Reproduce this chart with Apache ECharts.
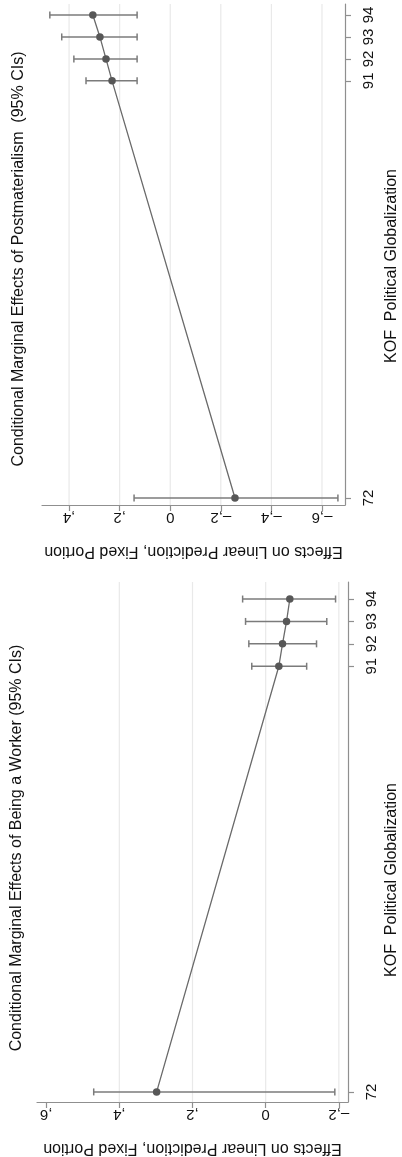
<!DOCTYPE html>
<html><head><meta charset="utf-8">
<script src="https://cdn.jsdelivr.net/npm/echarts@6/dist/echarts.min.js"></script>
<style>html,body{margin:0;padding:0;background:#fff}#c{width:402px;height:1157px}</style>
</head><body><div id="c"></div><script>
// KOF Political Globalization values (categories along the axis)
const kof = [72, 91, 92, 93, 94];
const kofTicks = [72, 91, 92, 93, 94];

// Panel 1: Conditional Marginal Effects of Postmaterialism
const postEst = [-0.256, 0.230, 0.254, 0.278, 0.306];
const postLo  = [-0.663, 0.131, 0.131, 0.131, 0.131];
const postHi  = [0.143, 0.333, 0.381, 0.429, 0.476];
const postTicks = [0.4, 0.2, 0, -0.2, -0.4, -0.6];
const postGridVals = [0.4, 0.2, 0, -0.2, -0.4, -0.6];

// Panel 2: Conditional Marginal Effects of Being a Worker
const workEst = [0.298, -0.036, -0.046, -0.057, -0.066];
const workLo  = [-0.189, -0.112, -0.139, -0.167, -0.191];
const workHi  = [0.470, 0.038, 0.046, 0.055, 0.063];
const workTicks = [0.6, 0.4, 0.2, 0, -0.2];
const workGridVals = [0.4, 0.2, 0, -0.2];

const titlePost = 'Conditional Marginal Effects of Postmaterialism  (95% CIs)';
const titleWork = 'Conditional Marginal Effects of Being a Worker (95% CIs)';
const yName = 'Effects on Linear Prediction, Fixed Portion';
const xName = 'KOF  Political Globalization';

const FONT = '"Liberation Sans", Arial, sans-serif';
const AX = '#8f8f8f';
const FS = 16;

function fmt(v) {
  if (Math.abs(v) < 1e-9) return '0';
  const s = Math.abs(v).toFixed(1).replace(/^0\./, ',');
  return (v < 0 ? '\u2013' : '') + s;
}

function valueAxis(gi, min, max, ticks) {
  return {
    type: 'value', gridIndex: gi, inverse: true, min: min, max: max, position: 'bottom',
    axisLine: {show: true, onZero: false, lineStyle: {color: AX, width: 1.2}},
    axisTick: {show: true, length: 6, customValues: ticks, lineStyle: {color: AX, width: 1.2}},
    axisLabel: {customValues: ticks, rotate: 180, formatter: fmt, margin: 5,
      fontFamily: FONT, fontSize: 15, color: '#111'},
    splitLine: {show: false},
    name: yName, nameLocation: 'middle', nameRotate: 180, nameGap: 38,
    nameTextStyle: {fontFamily: FONT, fontSize: FS, color: '#111'}
  };
}
function kofAxis(gi, min, max) {
  return {
    type: 'value', gridIndex: gi, position: 'right', min: min, max: max,
    axisLine: {show: true, onZero: false, lineStyle: {color: AX, width: 1.2}},
    axisTick: {show: true, length: 6, customValues: kofTicks, lineStyle: {color: AX, width: 1.2}},
    axisLabel: {customValues: kofTicks, rotate: 90, margin: 16, formatter: v => String(v),
      fontFamily: FONT, fontSize: 15, color: '#111'},
    splitLine: {show: false}
  };
}

function gridSeries(gi, vals) {
  return {
    type: 'custom', xAxisIndex: gi, yAxisIndex: gi, silent: true, z: 1,
    data: vals.map(v => [v, 80]), encode: {x: 0, y: 1},
    renderItem: function (params, api) {
      const cs = params.coordSys;
      const x = api.coord([api.value(0), api.value(1)])[0];
      return {type: 'line', shape: {x1: x, y1: cs.y, x2: x, y2: cs.y + cs.height},
        style: {stroke: '#e9e9e9', lineWidth: 1.2}};
    }
  };
}
function ciSeries(gi, lo, hi) {
  return {
    type: 'custom', xAxisIndex: gi, yAxisIndex: gi, z: 2,
    data: kof.map((k, i) => [lo[i], hi[i], k]), encode: {x: [0, 1], y: 2},
    renderItem: function (params, api) {
      const p1 = api.coord([api.value(0), api.value(2)]);
      const p2 = api.coord([api.value(1), api.value(2)]);
      const h = 3.5, st = {stroke: '#7b7b7b', lineWidth: 1.5};
      return {type: 'group', children: [
        {type: 'line', shape: {x1: p1[0], y1: p1[1], x2: p2[0], y2: p2[1]}, style: st},
        {type: 'line', shape: {x1: p1[0], y1: p1[1] - h, x2: p1[0], y2: p1[1] + h}, style: st},
        {type: 'line', shape: {x1: p2[0], y1: p2[1] - h, x2: p2[0], y2: p2[1] + h}, style: st}
      ]};
    }
  };
}
function estSeries(gi, est) {
  return {
    type: 'line', xAxisIndex: gi, yAxisIndex: gi, z: 3,
    data: kof.map((k, i) => [est[i], k]),
    symbol: 'circle', symbolSize: 7.5,
    itemStyle: {color: '#575757'},
    lineStyle: {color: '#6a6a6a', width: 1.3},
    animation: false
  };
}

const chart = echarts.init(document.getElementById('c'), null, {renderer: 'canvas'});
chart.setOption({
  animation: false,
  backgroundColor: '#fff',
  grid: [
    {left: 42, right: 57, top: 4, height: 501},
    {left: 37, right: 54, top: 582, height: 520}
  ],
  xAxis: [valueAxis(0, -0.691, 0.507, postTicks), valueAxis(1, -0.225, 0.625, workTicks)],
  yAxis: [kofAxis(0, 71.68, 94.5), kofAxis(1, 71.55, 94.76)],
  series: [
    gridSeries(0, postGridVals), ciSeries(0, postLo, postHi), estSeries(0, postEst),
    gridSeries(1, workGridVals), ciSeries(1, workLo, workHi), estSeries(1, workEst)
  ],
  graphic: [
    {type: 'text', x: 19, y: 259, rotation: Math.PI / 2,
      style: {text: titlePost, font: FS + 'px ' + FONT, fill: '#111', align: 'center', verticalAlign: 'middle'}},
    {type: 'text', x: 17, y: 848, rotation: Math.PI / 2,
      style: {text: titleWork, font: FS + 'px ' + FONT, fill: '#111', align: 'center', verticalAlign: 'middle'}},
    {type: 'text', x: 392, y: 266, rotation: Math.PI / 2,
      style: {text: xName, font: FS + 'px ' + FONT, fill: '#111', align: 'center', verticalAlign: 'middle'}},
    {type: 'text', x: 392, y: 880, rotation: Math.PI / 2,
      style: {text: xName, font: FS + 'px ' + FONT, fill: '#111', align: 'center', verticalAlign: 'middle'}}
  ]
});
</script></body></html>
